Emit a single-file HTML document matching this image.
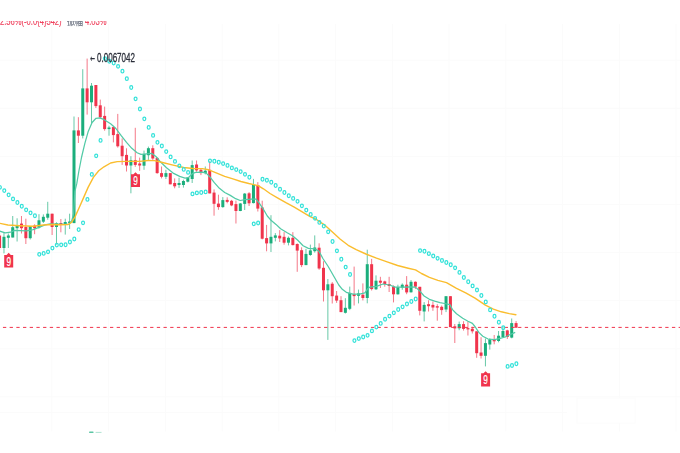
<!DOCTYPE html>
<html lang="zh"><head><meta charset="utf-8"><title>chart</title>
<style>
html,body{margin:0;padding:0;background:#fff;}
body{width:680px;height:453px;overflow:hidden;position:relative;font-family:"Liberation Sans","Noto Sans CJK SC",sans-serif;}
svg{position:absolute;left:0;top:0;display:block}
.hdr{will-change:transform;position:absolute;left:0;top:20.8px;height:8px;width:140px;overflow:hidden;}
.hdr span{position:absolute;top:-4.6px;-webkit-text-stroke:.2px currentColor;white-space:nowrap;font-size:11px;line-height:11px;transform-origin:0 0;transform:scaleX(.69);}
.hi{position:absolute;left:0;top:0;will-change:transform;color:#2a2e39;white-space:nowrap}
.hi span{position:absolute;transform-origin:0 0;line-height:1;white-space:nowrap}
.hi .ar{left:89.7px;top:53.6px;font-weight:bold;font-family:"DejaVu Sans",sans-serif;font-size:10px;transform:scaleX(.6)}
.hi .nm{-webkit-text-stroke:.3px #2a2e39;left:97.2px;top:51.8px;font-size:12px;transform:scaleX(.67)}
</style></head><body>

<svg width="680" height="453" viewBox="0 0 680 453">
<g stroke="#fbfbfb" stroke-width="1" fill="none">
<path d="M51.9 24V431.5"/>
<path d="M108.7 24V431.5"/>
<path d="M165.4 24V431.5"/>
<path d="M222.2 24V431.5"/>
<path d="M278.9 24V431.5"/>
<path d="M335.6 24V431.5"/>
<path d="M392.4 24V431.5"/>
<path d="M449.1 24V431.5"/>
<path d="M505.9 24V431.5"/>
<path d="M562.6 24V431.5"/>
<path d="M619.4 24V431.5"/>
<path d="M676.1 24V431.5"/>
<path d="M0 60.2H680"/>
<path d="M0 108.3H680"/>
<path d="M0 156.4H680"/>
<path d="M0 204.5H680"/>
<path d="M0 252.6H680"/>
<path d="M0 300.7H680"/>
<path d="M0 348.8H680"/>
<path d="M0 396.9H680"/>
<path d="M0 412.6H567"/>
<rect x="577" y="398" width="58" height="25" fill="#fff" stroke="#fcfcfc" stroke-width="1"/>
</g>
<path d="M-0.41 233.0V250.0" stroke="#f0344c" stroke-width="1" opacity=".66"/>
<rect x="-1.91" y="235.5" width="3" height="12.5" fill="#f0344c"/>
<path d="M3.97 232.2V253.4" stroke="#1bae7c" stroke-width="1" opacity=".66"/>
<rect x="2.47" y="236.8" width="3" height="11.2" fill="#1bae7c"/>
<path d="M8.34 233.5V248.0" stroke="#1bae7c" stroke-width="1" opacity=".66"/>
<rect x="6.84" y="235.5" width="3" height="2.3" fill="#1bae7c"/>
<path d="M12.72 216.0V237.5" stroke="#1bae7c" stroke-width="1" opacity=".66"/>
<rect x="11.22" y="227.2" width="3" height="10.3" fill="#1bae7c"/>
<path d="M17.10 218.3V241.5" stroke="#1bae7c" stroke-width="1" opacity=".66"/>
<rect x="15.60" y="225.0" width="3" height="3.2" fill="#1bae7c"/>
<path d="M21.48 216.0V233.5" stroke="#f0344c" stroke-width="1" opacity=".66"/>
<rect x="19.98" y="223.6" width="3" height="4.6" fill="#f0344c"/>
<path d="M25.85 218.7V244.0" stroke="#f0344c" stroke-width="1" opacity=".66"/>
<rect x="24.35" y="227.0" width="3" height="11.2" fill="#f0344c"/>
<path d="M30.23 226.0V239.5" stroke="#1bae7c" stroke-width="1" opacity=".66"/>
<rect x="28.73" y="226.2" width="3" height="12.0" fill="#1bae7c"/>
<path d="M34.61 224.3V234.2" stroke="#f0344c" stroke-width="1" opacity=".66"/>
<rect x="33.11" y="225.6" width="3" height="2.6" fill="#f0344c"/>
<path d="M38.98 214.2V228.6" stroke="#1bae7c" stroke-width="1" opacity=".66"/>
<rect x="37.48" y="220.3" width="3" height="7.2" fill="#1bae7c"/>
<path d="M43.36 214.4V223.0" stroke="#1bae7c" stroke-width="1" opacity=".66"/>
<rect x="41.86" y="216.8" width="3" height="4.9" fill="#1bae7c"/>
<path d="M47.74 201.8V219.7" stroke="#1bae7c" stroke-width="1" opacity=".66"/>
<rect x="46.24" y="213.7" width="3" height="4.0" fill="#1bae7c"/>
<path d="M52.12 213.7V235.0" stroke="#f0344c" stroke-width="1" opacity=".66"/>
<rect x="50.62" y="213.7" width="3" height="13.3" fill="#f0344c"/>
<path d="M56.49 222.3V244.5" stroke="#1bae7c" stroke-width="1" opacity=".66"/>
<rect x="54.99" y="223.3" width="3" height="3.7" fill="#1bae7c"/>
<path d="M60.87 219.0V232.3" stroke="#f0344c" stroke-width="1" opacity=".66"/>
<rect x="59.37" y="223.0" width="3" height="1.3" fill="#f0344c"/>
<path d="M65.25 218.7V234.6" stroke="#1bae7c" stroke-width="1" opacity=".66"/>
<rect x="63.75" y="222.0" width="3" height="2.5" fill="#1bae7c"/>
<path d="M69.62 213.7V229.0" stroke="#1bae7c" stroke-width="1" opacity=".66"/>
<rect x="68.12" y="221.5" width="3" height="1.5" fill="#1bae7c"/>
<path d="M74.00 116.5V223.1" stroke="#1bae7c" stroke-width="1" opacity=".66"/>
<rect x="72.50" y="130.4" width="3" height="92.7" fill="#1bae7c"/>
<path d="M78.38 117.2V143.0" stroke="#f0344c" stroke-width="1" opacity=".66"/>
<rect x="76.88" y="130.4" width="3" height="5.3" fill="#f0344c"/>
<path d="M82.75 69.2V138.4" stroke="#1bae7c" stroke-width="1" opacity=".66"/>
<rect x="81.25" y="88.4" width="3" height="47.3" fill="#1bae7c"/>
<path d="M87.13 58.6V114.6" stroke="#f0344c" stroke-width="1" opacity=".66"/>
<rect x="85.63" y="88.4" width="3" height="13.9" fill="#f0344c"/>
<path d="M91.51 83.0V123.8" stroke="#1bae7c" stroke-width="1" opacity=".66"/>
<rect x="90.01" y="85.7" width="3" height="16.6" fill="#1bae7c"/>
<path d="M95.88 85.0V108.0" stroke="#f0344c" stroke-width="1" opacity=".66"/>
<rect x="94.38" y="85.0" width="3" height="21.1" fill="#f0344c"/>
<path d="M100.26 99.6V119.0" stroke="#f0344c" stroke-width="1" opacity=".66"/>
<rect x="98.76" y="105.3" width="3" height="11.9" fill="#f0344c"/>
<path d="M104.64 106.6V130.7" stroke="#f0344c" stroke-width="1" opacity=".66"/>
<rect x="103.14" y="115.9" width="3" height="13.2" fill="#f0344c"/>
<path d="M109.02 125.8V135.7" stroke="#1bae7c" stroke-width="1" opacity=".66"/>
<rect x="107.52" y="127.5" width="3" height="1.6" fill="#1bae7c"/>
<path d="M113.39 125.8V142.4" stroke="#f0344c" stroke-width="1" opacity=".66"/>
<rect x="111.89" y="127.1" width="3" height="8.0" fill="#f0344c"/>
<path d="M117.77 113.9V147.6" stroke="#f0344c" stroke-width="1" opacity=".66"/>
<rect x="116.27" y="134.1" width="3" height="12.2" fill="#f0344c"/>
<path d="M122.15 138.4V164.9" stroke="#f0344c" stroke-width="1" opacity=".66"/>
<rect x="120.65" y="145.7" width="3" height="10.5" fill="#f0344c"/>
<path d="M126.52 148.3V171.5" stroke="#f0344c" stroke-width="1" opacity=".66"/>
<rect x="125.02" y="154.9" width="3" height="10.6" fill="#f0344c"/>
<path d="M130.90 156.2V193.3" stroke="#1bae7c" stroke-width="1" opacity=".66"/>
<rect x="129.40" y="160.2" width="3" height="5.3" fill="#1bae7c"/>
<path d="M135.28 127.8V166.8" stroke="#f0344c" stroke-width="1" opacity=".66"/>
<rect x="133.78" y="160.2" width="3" height="4.7" fill="#f0344c"/>
<path d="M139.66 157.6V170.8" stroke="#f0344c" stroke-width="1" opacity=".66"/>
<rect x="138.16" y="163.5" width="3" height="2.0" fill="#f0344c"/>
<path d="M144.03 150.6V169.8" stroke="#1bae7c" stroke-width="1" opacity=".66"/>
<rect x="142.53" y="154.0" width="3" height="11.7" fill="#1bae7c"/>
<path d="M148.41 146.6V159.9" stroke="#1bae7c" stroke-width="1" opacity=".66"/>
<rect x="146.91" y="148.2" width="3" height="7.0" fill="#1bae7c"/>
<path d="M152.79 145.3V159.9" stroke="#f0344c" stroke-width="1" opacity=".66"/>
<rect x="151.29" y="148.2" width="3" height="10.3" fill="#f0344c"/>
<path d="M157.16 157.2V173.8" stroke="#f0344c" stroke-width="1" opacity=".66"/>
<rect x="155.66" y="157.9" width="3" height="15.2" fill="#f0344c"/>
<path d="M161.54 166.5V178.4" stroke="#f0344c" stroke-width="1" opacity=".66"/>
<rect x="160.04" y="173.1" width="3" height="3.7" fill="#f0344c"/>
<path d="M165.92 169.8V179.0" stroke="#1bae7c" stroke-width="1" opacity=".66"/>
<rect x="164.42" y="173.1" width="3" height="3.7" fill="#1bae7c"/>
<path d="M170.29 173.1V184.3" stroke="#f0344c" stroke-width="1" opacity=".66"/>
<rect x="168.79" y="173.1" width="3" height="11.2" fill="#f0344c"/>
<path d="M174.67 178.4V188.3" stroke="#f0344c" stroke-width="1" opacity=".66"/>
<rect x="173.17" y="183.0" width="3" height="3.3" fill="#f0344c"/>
<path d="M179.05 177.7V187.9" stroke="#1bae7c" stroke-width="1" opacity=".66"/>
<rect x="177.55" y="183.0" width="3" height="2.0" fill="#1bae7c"/>
<path d="M183.43 179.7V187.6" stroke="#1bae7c" stroke-width="1" opacity=".66"/>
<rect x="181.93" y="181.0" width="3" height="4.0" fill="#1bae7c"/>
<path d="M187.80 177.0V182.4" stroke="#1bae7c" stroke-width="1" opacity=".66"/>
<rect x="186.30" y="177.7" width="3" height="4.0" fill="#1bae7c"/>
<path d="M192.18 160.5V183.0" stroke="#1bae7c" stroke-width="1" opacity=".66"/>
<rect x="190.68" y="165.1" width="3" height="13.9" fill="#1bae7c"/>
<path d="M196.56 160.5V171.8" stroke="#f0344c" stroke-width="1" opacity=".66"/>
<rect x="195.06" y="164.5" width="3" height="5.9" fill="#f0344c"/>
<path d="M200.93 168.5V175.1" stroke="#f0344c" stroke-width="1" opacity=".66"/>
<rect x="199.43" y="169.8" width="3" height="3.3" fill="#f0344c"/>
<path d="M205.31 166.5V174.4" stroke="#1bae7c" stroke-width="1" opacity=".66"/>
<rect x="203.81" y="170.7" width="3" height="2.4" fill="#1bae7c"/>
<path d="M209.69 161.2V193.4" stroke="#f0344c" stroke-width="1" opacity=".66"/>
<rect x="208.19" y="169.8" width="3" height="23.6" fill="#f0344c"/>
<path d="M214.06 189.4V215.7" stroke="#f0344c" stroke-width="1" opacity=".66"/>
<rect x="212.56" y="192.6" width="3" height="11.2" fill="#f0344c"/>
<path d="M218.44 194.7V209.8" stroke="#f0344c" stroke-width="1" opacity=".66"/>
<rect x="216.94" y="203.6" width="3" height="3.5" fill="#f0344c"/>
<path d="M222.82 197.1V207.8" stroke="#1bae7c" stroke-width="1" opacity=".66"/>
<rect x="221.32" y="200.1" width="3" height="7.0" fill="#1bae7c"/>
<path d="M227.19 197.3V203.3" stroke="#f0344c" stroke-width="1" opacity=".66"/>
<rect x="225.69" y="199.9" width="3" height="2.0" fill="#f0344c"/>
<path d="M231.57 199.9V206.2" stroke="#f0344c" stroke-width="1" opacity=".66"/>
<rect x="230.07" y="200.8" width="3" height="4.6" fill="#f0344c"/>
<path d="M235.95 200.6V223.5" stroke="#f0344c" stroke-width="1" opacity=".66"/>
<rect x="234.45" y="204.1" width="3" height="6.9" fill="#f0344c"/>
<path d="M240.33 203.0V211.2" stroke="#1bae7c" stroke-width="1" opacity=".66"/>
<rect x="238.83" y="203.5" width="3" height="7.5" fill="#1bae7c"/>
<path d="M244.70 193.0V210.0" stroke="#1bae7c" stroke-width="1" opacity=".66"/>
<rect x="243.20" y="193.6" width="3" height="10.3" fill="#1bae7c"/>
<path d="M249.08 192.1V206.0" stroke="#f0344c" stroke-width="1" opacity=".66"/>
<rect x="247.58" y="193.3" width="3" height="10.0" fill="#f0344c"/>
<path d="M253.46 178.9V203.4" stroke="#1bae7c" stroke-width="1" opacity=".66"/>
<rect x="251.96" y="185.0" width="3" height="18.1" fill="#1bae7c"/>
<path d="M257.83 182.1V211.5" stroke="#f0344c" stroke-width="1" opacity=".66"/>
<rect x="256.33" y="185.0" width="3" height="23.6" fill="#f0344c"/>
<path d="M262.21 200.7V239.4" stroke="#f0344c" stroke-width="1" opacity=".66"/>
<rect x="260.71" y="207.4" width="3" height="31.3" fill="#f0344c"/>
<path d="M266.59 224.9V251.3" stroke="#f0344c" stroke-width="1" opacity=".66"/>
<rect x="265.09" y="238.1" width="3" height="5.3" fill="#f0344c"/>
<path d="M270.97 215.2V252.0" stroke="#1bae7c" stroke-width="1" opacity=".66"/>
<rect x="269.47" y="236.8" width="3" height="6.6" fill="#1bae7c"/>
<path d="M275.34 233.1V241.4" stroke="#1bae7c" stroke-width="1" opacity=".66"/>
<rect x="273.84" y="235.4" width="3" height="2.4" fill="#1bae7c"/>
<path d="M279.72 230.1V242.0" stroke="#f0344c" stroke-width="1" opacity=".66"/>
<rect x="278.22" y="235.7" width="3" height="2.7" fill="#f0344c"/>
<path d="M284.10 232.1V244.7" stroke="#f0344c" stroke-width="1" opacity=".66"/>
<rect x="282.60" y="236.8" width="3" height="5.9" fill="#f0344c"/>
<path d="M288.47 236.5V245.4" stroke="#1bae7c" stroke-width="1" opacity=".66"/>
<rect x="286.97" y="237.8" width="3" height="4.9" fill="#1bae7c"/>
<path d="M292.85 232.1V245.4" stroke="#f0344c" stroke-width="1" opacity=".66"/>
<rect x="291.35" y="237.8" width="3" height="7.3" fill="#f0344c"/>
<path d="M297.23 243.4V271.8" stroke="#f0344c" stroke-width="1" opacity=".66"/>
<rect x="295.73" y="244.0" width="3" height="6.6" fill="#f0344c"/>
<path d="M301.60 247.3V267.1" stroke="#f0344c" stroke-width="1" opacity=".66"/>
<rect x="300.10" y="250.2" width="3" height="14.9" fill="#f0344c"/>
<path d="M305.98 248.9V265.1" stroke="#1bae7c" stroke-width="1" opacity=".66"/>
<rect x="304.48" y="253.9" width="3" height="11.2" fill="#1bae7c"/>
<path d="M310.36 244.6V255.8" stroke="#1bae7c" stroke-width="1" opacity=".66"/>
<rect x="308.86" y="250.4" width="3" height="4.6" fill="#1bae7c"/>
<path d="M314.74 235.4V252.6" stroke="#1bae7c" stroke-width="1" opacity=".66"/>
<rect x="313.24" y="247.5" width="3" height="3.7" fill="#1bae7c"/>
<path d="M319.11 243.3V269.8" stroke="#f0344c" stroke-width="1" opacity=".66"/>
<rect x="317.61" y="247.7" width="3" height="20.8" fill="#f0344c"/>
<path d="M323.49 261.2V301.5" stroke="#f0344c" stroke-width="1" opacity=".66"/>
<rect x="321.99" y="267.8" width="3" height="22.5" fill="#f0344c"/>
<path d="M327.87 279.0V339.9" stroke="#1bae7c" stroke-width="1" opacity=".66"/>
<rect x="326.37" y="284.3" width="3" height="6.0" fill="#1bae7c"/>
<path d="M332.24 282.1V303.5" stroke="#f0344c" stroke-width="1" opacity=".66"/>
<rect x="330.74" y="283.7" width="3" height="12.5" fill="#f0344c"/>
<path d="M336.62 291.0V302.9" stroke="#f0344c" stroke-width="1" opacity=".66"/>
<rect x="335.12" y="295.6" width="3" height="5.0" fill="#f0344c"/>
<path d="M341.00 296.2V312.1" stroke="#f0344c" stroke-width="1" opacity=".66"/>
<rect x="339.50" y="300.2" width="3" height="11.9" fill="#f0344c"/>
<path d="M345.37 298.2V313.5" stroke="#1bae7c" stroke-width="1" opacity=".66"/>
<rect x="343.87" y="307.8" width="3" height="5.0" fill="#1bae7c"/>
<path d="M349.75 286.6V310.1" stroke="#1bae7c" stroke-width="1" opacity=".66"/>
<rect x="348.25" y="292.9" width="3" height="15.9" fill="#1bae7c"/>
<path d="M354.13 266.6V305.5" stroke="#f0344c" stroke-width="1" opacity=".66"/>
<rect x="352.63" y="294.1" width="3" height="2.0" fill="#f0344c"/>
<path d="M358.50 289.6V303.4" stroke="#1bae7c" stroke-width="1" opacity=".66"/>
<rect x="357.00" y="293.4" width="3" height="2.4" fill="#1bae7c"/>
<path d="M362.88 283.4V300.4" stroke="#f0344c" stroke-width="1" opacity=".66"/>
<rect x="361.38" y="294.7" width="3" height="3.3" fill="#f0344c"/>
<path d="M367.26 249.7V303.3" stroke="#1bae7c" stroke-width="1" opacity=".66"/>
<rect x="365.76" y="264.2" width="3" height="33.8" fill="#1bae7c"/>
<path d="M371.64 258.9V290.5" stroke="#f0344c" stroke-width="1" opacity=".66"/>
<rect x="370.14" y="264.2" width="3" height="24.9" fill="#f0344c"/>
<path d="M376.01 275.4V290.0" stroke="#1bae7c" stroke-width="1" opacity=".66"/>
<rect x="374.51" y="280.7" width="3" height="8.6" fill="#1bae7c"/>
<path d="M380.39 276.8V288.0" stroke="#f0344c" stroke-width="1" opacity=".66"/>
<rect x="378.89" y="280.7" width="3" height="2.0" fill="#f0344c"/>
<path d="M384.77 280.7V286.7" stroke="#f0344c" stroke-width="1" opacity=".66"/>
<rect x="383.27" y="281.4" width="3" height="2.6" fill="#f0344c"/>
<path d="M389.14 276.8V292.0" stroke="#f0344c" stroke-width="1" opacity=".66"/>
<rect x="387.64" y="284.0" width="3" height="2.0" fill="#f0344c"/>
<path d="M393.52 285.4V302.4" stroke="#f0344c" stroke-width="1" opacity=".66"/>
<rect x="392.02" y="286.5" width="3" height="7.8" fill="#f0344c"/>
<path d="M397.90 284.7V294.6" stroke="#1bae7c" stroke-width="1" opacity=".66"/>
<rect x="396.40" y="287.1" width="3" height="7.2" fill="#1bae7c"/>
<path d="M402.27 283.4V289.8" stroke="#1bae7c" stroke-width="1" opacity=".66"/>
<rect x="400.77" y="284.7" width="3" height="2.9" fill="#1bae7c"/>
<path d="M406.65 276.1V294.2" stroke="#f0344c" stroke-width="1" opacity=".66"/>
<rect x="405.15" y="284.7" width="3" height="7.7" fill="#f0344c"/>
<path d="M411.03 280.1V292.6" stroke="#1bae7c" stroke-width="1" opacity=".66"/>
<rect x="409.53" y="281.8" width="3" height="10.5" fill="#1bae7c"/>
<path d="M415.41 281.4V289.0" stroke="#f0344c" stroke-width="1" opacity=".66"/>
<rect x="413.91" y="281.8" width="3" height="4.9" fill="#f0344c"/>
<path d="M419.78 286.8V315.4" stroke="#f0344c" stroke-width="1" opacity=".66"/>
<rect x="418.28" y="286.8" width="3" height="24.0" fill="#f0344c"/>
<path d="M424.16 302.1V321.4" stroke="#1bae7c" stroke-width="1" opacity=".66"/>
<rect x="422.66" y="304.9" width="3" height="6.6" fill="#1bae7c"/>
<path d="M428.54 300.3V311.5" stroke="#f0344c" stroke-width="1" opacity=".66"/>
<rect x="427.04" y="304.2" width="3" height="2.0" fill="#f0344c"/>
<path d="M432.91 301.5V310.8" stroke="#f0344c" stroke-width="1" opacity=".66"/>
<rect x="431.41" y="304.9" width="3" height="2.6" fill="#f0344c"/>
<path d="M437.29 304.2V320.7" stroke="#f0344c" stroke-width="1" opacity=".66"/>
<rect x="435.79" y="306.2" width="3" height="1.4" fill="#f0344c"/>
<path d="M441.67 305.5V314.8" stroke="#f0344c" stroke-width="1" opacity=".66"/>
<rect x="440.17" y="306.8" width="3" height="3.3" fill="#f0344c"/>
<path d="M446.04 296.2V312.1" stroke="#1bae7c" stroke-width="1" opacity=".66"/>
<rect x="444.54" y="296.2" width="3" height="13.3" fill="#1bae7c"/>
<path d="M450.42 296.2V327.1" stroke="#f0344c" stroke-width="1" opacity=".66"/>
<rect x="448.92" y="296.2" width="3" height="30.9" fill="#f0344c"/>
<path d="M454.80 324.0V343.0" stroke="#f0344c" stroke-width="1" opacity=".66"/>
<rect x="453.30" y="326.3" width="3" height="2.1" fill="#f0344c"/>
<path d="M459.18 321.6V330.2" stroke="#1bae7c" stroke-width="1" opacity=".66"/>
<rect x="457.68" y="324.1" width="3" height="4.2" fill="#1bae7c"/>
<path d="M463.55 321.2V330.6" stroke="#f0344c" stroke-width="1" opacity=".66"/>
<rect x="462.05" y="324.1" width="3" height="4.8" fill="#f0344c"/>
<path d="M467.93 321.5V335.5" stroke="#f0344c" stroke-width="1" opacity=".66"/>
<rect x="466.43" y="328.1" width="3" height="1.3" fill="#f0344c"/>
<path d="M472.31 326.8V333.5" stroke="#f0344c" stroke-width="1" opacity=".66"/>
<rect x="470.81" y="328.7" width="3" height="2.6" fill="#f0344c"/>
<path d="M476.68 331.3V357.8" stroke="#f0344c" stroke-width="1" opacity=".66"/>
<rect x="475.18" y="331.3" width="3" height="21.9" fill="#f0344c"/>
<path d="M481.06 337.2V358.5" stroke="#f0344c" stroke-width="1" opacity=".66"/>
<rect x="479.56" y="352.5" width="3" height="3.3" fill="#f0344c"/>
<path d="M485.44 338.5V366.4" stroke="#1bae7c" stroke-width="1" opacity=".66"/>
<rect x="483.94" y="343.1" width="3" height="12.7" fill="#1bae7c"/>
<path d="M489.81 338.3V349.6" stroke="#1bae7c" stroke-width="1" opacity=".66"/>
<rect x="488.31" y="339.3" width="3" height="5.2" fill="#1bae7c"/>
<path d="M494.19 335.0V344.3" stroke="#f0344c" stroke-width="1" opacity=".66"/>
<rect x="492.69" y="339.4" width="3" height="1.9" fill="#f0344c"/>
<path d="M498.57 331.0V342.3" stroke="#1bae7c" stroke-width="1" opacity=".66"/>
<rect x="497.07" y="335.7" width="3" height="5.3" fill="#1bae7c"/>
<path d="M502.95 326.4V337.4" stroke="#1bae7c" stroke-width="1" opacity=".66"/>
<rect x="501.45" y="331.0" width="3" height="6.0" fill="#1bae7c"/>
<path d="M507.32 329.7V339.0" stroke="#f0344c" stroke-width="1" opacity=".66"/>
<rect x="505.82" y="330.4" width="3" height="6.6" fill="#f0344c"/>
<path d="M511.70 318.5V338.3" stroke="#1bae7c" stroke-width="1" opacity=".66"/>
<rect x="510.20" y="323.1" width="3" height="14.5" fill="#1bae7c"/>
<path d="M516.08 321.1V327.7" stroke="#f0344c" stroke-width="1" opacity=".66"/>
<rect x="514.58" y="323.1" width="3" height="4.6" fill="#f0344c"/>
<path d="M0 327.4H680" stroke="#f0344c" stroke-width="1" stroke-dasharray="3.3 3.39" stroke-dashoffset="3.74" fill="none"/>
<path d="M-2.0 230.6 L5.3 232.9 L10.6 232.2 L14.6 230.4 L20.0 230.6 L26.5 230.9 L33.1 229.6 L38.4 227.6 L45.0 224.9 L50.3 223.8 L56.9 224.0 L68.8 224.3 L71.5 221.6 L73.6 214.0 L74.9 191.3 L76.8 183.4 L78.8 171.5 L81.5 157.5 L84.8 143.7 L88.1 131.8 L92.1 122.5 L96.0 118.3 L100.0 117.9 L104.6 119.9 L110.6 123.8 L115.9 128.5 L121.2 135.7 L126.5 142.4 L131.8 148.3 L137.1 152.7 L141.0 154.4 L146.6 153.9 L151.9 153.4 L155.9 156.5 L159.9 161.2 L166.5 167.8 L173.1 173.1 L179.7 176.4 L185.0 178.1 L188.3 177.7 L192.3 173.7 L195.6 172.4 L202.2 172.2 L206.2 173.1 L210.1 177.1 L214.1 182.4 L219.4 188.3 L224.7 192.5 L230.3 195.4 L235.6 198.7 L240.2 200.5 L244.9 199.7 L251.5 199.1 L256.1 199.1 L259.4 203.4 L263.4 209.3 L267.3 216.0 L271.3 220.6 L276.0 224.4 L280.6 228.8 L287.2 232.8 L292.5 235.7 L297.8 240.3 L303.1 245.7 L308.4 248.4 L315.0 248.8 L319.0 251.2 L322.9 258.5 L328.2 266.5 L333.5 275.7 L338.8 285.0 L342.3 289.3 L346.3 292.3 L352.9 294.2 L359.6 294.2 L364.9 292.9 L367.3 289.3 L369.9 287.1 L376.5 286.3 L383.1 284.0 L389.7 285.0 L395.0 287.1 L402.9 287.1 L409.6 286.8 L415.5 287.1 L419.5 290.7 L424.1 296.0 L429.4 299.3 L434.7 301.2 L440.0 302.6 L444.6 303.5 L449.9 304.6 L452.5 309.6 L456.5 313.8 L462.7 318.2 L468.0 321.2 L472.4 323.4 L475.3 327.0 L478.8 332.4 L482.8 336.3 L488.1 339.0 L494.7 339.6 L500.0 338.3 L505.3 337.0 L510.6 334.3 L515.2 332.4" stroke="#52caa6" stroke-width="1.25" fill="none" stroke-linejoin="round"/>
<path d="M-2.0 223.0 L7.9 225.0 L19.9 225.7 L33.1 226.3 L43.7 225.0 L52.9 224.5 L60.0 224.7 L68.2 224.5 L71.5 222.4 L74.9 217.1 L78.8 208.5 L83.5 197.9 L88.1 187.4 L93.4 177.4 L98.7 170.8 L104.0 166.8 L110.6 163.0 L117.2 161.6 L126.5 161.4 L140.0 161.4 L147.9 160.5 L154.6 160.6 L162.5 162.5 L173.1 165.1 L183.7 167.5 L192.9 168.5 L202.2 168.6 L208.8 169.8 L216.8 173.1 L224.7 176.3 L232.9 178.9 L240.9 181.5 L248.8 183.5 L258.1 185.6 L263.4 188.8 L270.0 193.5 L277.9 198.1 L285.9 202.7 L293.8 206.9 L301.8 211.6 L309.7 216.3 L316.5 219.5 L324.4 224.8 L332.4 232.1 L340.3 239.3 L348.2 245.3 L356.2 249.6 L365.9 254.0 L376.5 258.2 L387.1 261.9 L397.6 265.5 L408.2 268.2 L415.5 269.9 L421.5 273.5 L429.4 277.4 L437.9 280.4 L446.5 282.6 L456.5 288.3 L465.7 292.9 L475.0 298.2 L485.4 305.2 L493.4 309.2 L501.3 311.8 L509.3 313.6 L515.9 314.7" stroke="#fabd2e" stroke-width="1.4" fill="none" stroke-linejoin="round" stroke-linecap="round"/>
<g fill="none" stroke="#33e2d9" stroke-width="1.25">
<ellipse cx="-0.11" cy="187.3" rx="1.45" ry="1.8"/>
<ellipse cx="4.27" cy="190.6" rx="1.45" ry="1.8"/>
<ellipse cx="8.64" cy="194.8" rx="1.45" ry="1.8"/>
<ellipse cx="13.02" cy="198.9" rx="1.45" ry="1.8"/>
<ellipse cx="17.40" cy="202.5" rx="1.45" ry="1.8"/>
<ellipse cx="21.78" cy="206.2" rx="1.45" ry="1.8"/>
<ellipse cx="26.15" cy="209.8" rx="1.45" ry="1.8"/>
<ellipse cx="30.53" cy="212.8" rx="1.45" ry="1.8"/>
<ellipse cx="34.91" cy="215.7" rx="1.45" ry="1.8"/>
<ellipse cx="39.28" cy="254.3" rx="1.45" ry="1.8"/>
<ellipse cx="43.66" cy="253.4" rx="1.45" ry="1.8"/>
<ellipse cx="48.04" cy="251.8" rx="1.45" ry="1.8"/>
<ellipse cx="52.41" cy="248.1" rx="1.45" ry="1.8"/>
<ellipse cx="56.79" cy="245.1" rx="1.45" ry="1.8"/>
<ellipse cx="61.17" cy="244.8" rx="1.45" ry="1.8"/>
<ellipse cx="65.55" cy="244.7" rx="1.45" ry="1.8"/>
<ellipse cx="69.92" cy="242.0" rx="1.45" ry="1.8"/>
<ellipse cx="74.30" cy="239.0" rx="1.45" ry="1.8"/>
<ellipse cx="78.68" cy="229.6" rx="1.45" ry="1.8"/>
<ellipse cx="83.05" cy="222.8" rx="1.45" ry="1.8"/>
<ellipse cx="87.43" cy="199.4" rx="1.45" ry="1.8"/>
<ellipse cx="91.81" cy="174.4" rx="1.45" ry="1.8"/>
<ellipse cx="96.18" cy="155.8" rx="1.45" ry="1.8"/>
<ellipse cx="100.56" cy="140.4" rx="1.45" ry="1.8"/>
<ellipse cx="104.94" cy="58.6" rx="1.45" ry="1.8"/>
<ellipse cx="109.32" cy="61.2" rx="1.45" ry="1.8"/>
<ellipse cx="113.69" cy="63.0" rx="1.45" ry="1.8"/>
<ellipse cx="118.07" cy="66.3" rx="1.45" ry="1.8"/>
<ellipse cx="122.45" cy="71.2" rx="1.45" ry="1.8"/>
<ellipse cx="126.82" cy="78.7" rx="1.45" ry="1.8"/>
<ellipse cx="131.20" cy="87.5" rx="1.45" ry="1.8"/>
<ellipse cx="135.58" cy="98.8" rx="1.45" ry="1.8"/>
<ellipse cx="139.96" cy="109.0" rx="1.45" ry="1.8"/>
<ellipse cx="144.33" cy="118.8" rx="1.45" ry="1.8"/>
<ellipse cx="148.71" cy="127.4" rx="1.45" ry="1.8"/>
<ellipse cx="153.09" cy="135.4" rx="1.45" ry="1.8"/>
<ellipse cx="157.46" cy="142.3" rx="1.45" ry="1.8"/>
<ellipse cx="161.84" cy="146.0" rx="1.45" ry="1.8"/>
<ellipse cx="166.22" cy="151.6" rx="1.45" ry="1.8"/>
<ellipse cx="170.59" cy="156.9" rx="1.45" ry="1.8"/>
<ellipse cx="174.97" cy="161.4" rx="1.45" ry="1.8"/>
<ellipse cx="179.35" cy="165.8" rx="1.45" ry="1.8"/>
<ellipse cx="183.73" cy="169.4" rx="1.45" ry="1.8"/>
<ellipse cx="188.10" cy="172.4" rx="1.45" ry="1.8"/>
<ellipse cx="192.48" cy="193.9" rx="1.45" ry="1.8"/>
<ellipse cx="196.86" cy="192.9" rx="1.45" ry="1.8"/>
<ellipse cx="201.23" cy="192.5" rx="1.45" ry="1.8"/>
<ellipse cx="205.61" cy="191.9" rx="1.45" ry="1.8"/>
<ellipse cx="209.99" cy="160.8" rx="1.45" ry="1.8"/>
<ellipse cx="214.36" cy="161.2" rx="1.45" ry="1.8"/>
<ellipse cx="218.74" cy="162.2" rx="1.45" ry="1.8"/>
<ellipse cx="223.12" cy="163.6" rx="1.45" ry="1.8"/>
<ellipse cx="227.50" cy="165.4" rx="1.45" ry="1.8"/>
<ellipse cx="231.87" cy="167.9" rx="1.45" ry="1.8"/>
<ellipse cx="236.25" cy="169.6" rx="1.45" ry="1.8"/>
<ellipse cx="240.63" cy="171.6" rx="1.45" ry="1.8"/>
<ellipse cx="245.00" cy="174.3" rx="1.45" ry="1.8"/>
<ellipse cx="249.38" cy="177.2" rx="1.45" ry="1.8"/>
<ellipse cx="253.76" cy="223.8" rx="1.45" ry="1.8"/>
<ellipse cx="258.13" cy="223.0" rx="1.45" ry="1.8"/>
<ellipse cx="262.51" cy="179.2" rx="1.45" ry="1.8"/>
<ellipse cx="266.89" cy="180.2" rx="1.45" ry="1.8"/>
<ellipse cx="271.27" cy="182.2" rx="1.45" ry="1.8"/>
<ellipse cx="275.64" cy="185.5" rx="1.45" ry="1.8"/>
<ellipse cx="280.02" cy="189.2" rx="1.45" ry="1.8"/>
<ellipse cx="284.40" cy="192.5" rx="1.45" ry="1.8"/>
<ellipse cx="288.77" cy="195.7" rx="1.45" ry="1.8"/>
<ellipse cx="293.15" cy="198.4" rx="1.45" ry="1.8"/>
<ellipse cx="297.53" cy="201.3" rx="1.45" ry="1.8"/>
<ellipse cx="301.90" cy="205.8" rx="1.45" ry="1.8"/>
<ellipse cx="306.28" cy="210.1" rx="1.45" ry="1.8"/>
<ellipse cx="310.66" cy="214.4" rx="1.45" ry="1.8"/>
<ellipse cx="315.04" cy="218.3" rx="1.45" ry="1.8"/>
<ellipse cx="319.41" cy="222.4" rx="1.45" ry="1.8"/>
<ellipse cx="323.79" cy="226.1" rx="1.45" ry="1.8"/>
<ellipse cx="328.17" cy="231.8" rx="1.45" ry="1.8"/>
<ellipse cx="332.54" cy="241.5" rx="1.45" ry="1.8"/>
<ellipse cx="336.92" cy="250.8" rx="1.45" ry="1.8"/>
<ellipse cx="341.30" cy="259.2" rx="1.45" ry="1.8"/>
<ellipse cx="345.67" cy="267.1" rx="1.45" ry="1.8"/>
<ellipse cx="350.05" cy="274.5" rx="1.45" ry="1.8"/>
<ellipse cx="354.43" cy="340.6" rx="1.45" ry="1.8"/>
<ellipse cx="358.81" cy="338.6" rx="1.45" ry="1.8"/>
<ellipse cx="363.18" cy="337.0" rx="1.45" ry="1.8"/>
<ellipse cx="367.56" cy="335.3" rx="1.45" ry="1.8"/>
<ellipse cx="371.94" cy="330.9" rx="1.45" ry="1.8"/>
<ellipse cx="376.31" cy="327.1" rx="1.45" ry="1.8"/>
<ellipse cx="380.69" cy="323.4" rx="1.45" ry="1.8"/>
<ellipse cx="385.07" cy="319.2" rx="1.45" ry="1.8"/>
<ellipse cx="389.44" cy="316.1" rx="1.45" ry="1.8"/>
<ellipse cx="393.82" cy="312.8" rx="1.45" ry="1.8"/>
<ellipse cx="398.20" cy="309.5" rx="1.45" ry="1.8"/>
<ellipse cx="402.57" cy="306.8" rx="1.45" ry="1.8"/>
<ellipse cx="406.95" cy="304.0" rx="1.45" ry="1.8"/>
<ellipse cx="411.33" cy="301.5" rx="1.45" ry="1.8"/>
<ellipse cx="415.71" cy="299.0" rx="1.45" ry="1.8"/>
<ellipse cx="420.08" cy="250.6" rx="1.45" ry="1.8"/>
<ellipse cx="424.46" cy="251.2" rx="1.45" ry="1.8"/>
<ellipse cx="428.84" cy="253.6" rx="1.45" ry="1.8"/>
<ellipse cx="433.21" cy="256.0" rx="1.45" ry="1.8"/>
<ellipse cx="437.59" cy="258.3" rx="1.45" ry="1.8"/>
<ellipse cx="441.97" cy="260.5" rx="1.45" ry="1.8"/>
<ellipse cx="446.34" cy="262.5" rx="1.45" ry="1.8"/>
<ellipse cx="450.72" cy="264.7" rx="1.45" ry="1.8"/>
<ellipse cx="455.10" cy="267.8" rx="1.45" ry="1.8"/>
<ellipse cx="459.48" cy="272.4" rx="1.45" ry="1.8"/>
<ellipse cx="463.85" cy="277.5" rx="1.45" ry="1.8"/>
<ellipse cx="468.23" cy="281.7" rx="1.45" ry="1.8"/>
<ellipse cx="472.61" cy="285.9" rx="1.45" ry="1.8"/>
<ellipse cx="476.98" cy="290.0" rx="1.45" ry="1.8"/>
<ellipse cx="481.36" cy="295.5" rx="1.45" ry="1.8"/>
<ellipse cx="485.74" cy="301.9" rx="1.45" ry="1.8"/>
<ellipse cx="490.12" cy="309.9" rx="1.45" ry="1.8"/>
<ellipse cx="494.49" cy="316.2" rx="1.45" ry="1.8"/>
<ellipse cx="498.87" cy="322.2" rx="1.45" ry="1.8"/>
<ellipse cx="503.25" cy="327.7" rx="1.45" ry="1.8"/>
<ellipse cx="507.62" cy="366.4" rx="1.45" ry="1.8"/>
<ellipse cx="512.00" cy="365.5" rx="1.45" ry="1.8"/>
<ellipse cx="516.38" cy="363.7" rx="1.45" ry="1.8"/>
</g>
<path d="M4.2 254.9H6.6L8.7 252.8L10.8 254.9H13.2V267.5H4.2Z" fill="#f0344c"/><text x="8.7" y="265.6" font-size="12" fill="#fff" stroke="#fff" stroke-width=".2" text-anchor="middle" textLength="4.6" lengthAdjust="spacingAndGlyphs" font-family="Liberation Sans, sans-serif">9</text>
<path d="M131.0 174.3H133.4L135.5 172.2L137.6 174.3H140.0V186.9H131.0Z" fill="#f0344c"/><text x="135.5" y="185.0" font-size="12" fill="#fff" stroke="#fff" stroke-width=".2" text-anchor="middle" textLength="4.6" lengthAdjust="spacingAndGlyphs" font-family="Liberation Sans, sans-serif">9</text>
<path d="M481.1 373.3H483.5L485.6 371.2L487.7 373.3H490.1V386.6H481.1Z" fill="#f0344c"/><text x="485.6" y="384.0" font-size="12" fill="#fff" stroke="#fff" stroke-width=".2" text-anchor="middle" textLength="4.6" lengthAdjust="spacingAndGlyphs" font-family="Liberation Sans, sans-serif">9</text>
<rect x="89" y="431.6" width="4.6" height="1.4" rx=".7" fill="#5cc6a4"/><path d="M95.6 432.4H101.5" stroke="#9adcc6" stroke-width=".8"/>
</svg>
<div class="hi"><span class="ar">←</span><span class="nm">0.0067042</span></div>
<div class="hdr"><span style="left:-0.5px;color:#ef4560">2.56%(-0.0{4}542)</span><span style="left:66.5px;color:#6b7280;transform:scaleX(.73)">振幅</span><span style="left:85px;color:#ef4560">4.03%</span></div>
</body></html>
